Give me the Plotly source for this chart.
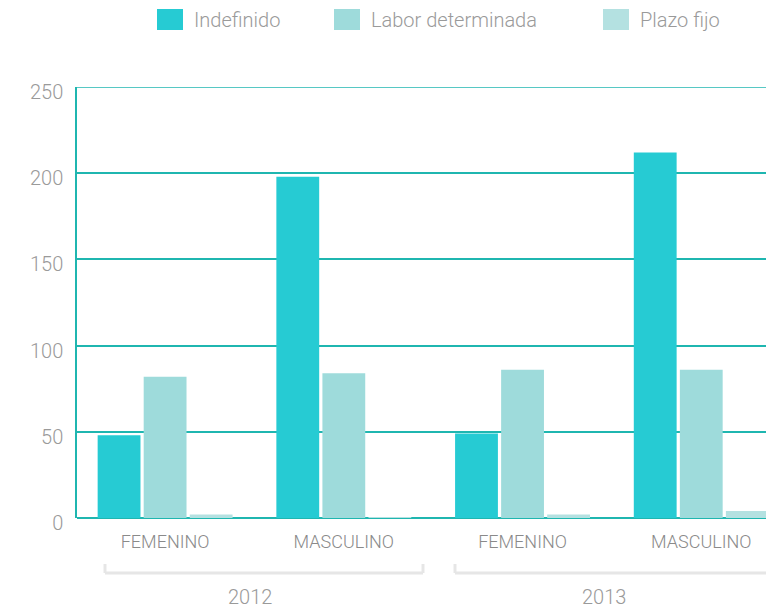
import plotly.graph_objects as go

# ---- data ----
sexo = ["FEMENINO", "MASCULINO", "FEMENINO", "MASCULINO"]
anio = ["2012", "2012", "2013", "2013"]
series_names = ["Indefinido", "Labor determinada", "Plazo fijo"]
indefinido = [48, 198, 49, 212]
labor_determinada = [82, 84, 86, 86]
plazo_fijo = [2, 0.5, 2, 4]
y_ticks = [0, 50, 100, 150, 200, 250]

colors = ["#26CBD3", "#9EDBDB", "#B4E1E1"]
values = [indefinido, labor_determinada, plazo_fijo]
xpos = list(range(len(sexo)))

OFF = 8  # page body margin
W, H = 774 - OFF, 610 - OFF
ml, mr, mt = 77 - OFF, 0, 87 - OFF
mb = (610 - OFF) - (518 - OFF)
plot_h = H - mt - mb
plot_w = W - ml - mr

fig = go.Figure()
for name, vals, col in zip(series_names, values, colors):
    fig.add_trace(go.Bar(x=xpos, y=vals, name=name, marker_color=col,
                         marker_line_width=0, showlegend=False))

grid_col = "#1FB6B0"
fam = "Roboto, 'DejaVu Sans', sans-serif"
fig.update_layout(
    width=W, height=H,
    margin=dict(l=ml, r=mr, t=mt, b=mb),
    plot_bgcolor="white", paper_bgcolor="white",
    barmode="group", bargap=0.227, bargroupgap=0.07,
    font=dict(family=fam, color="#999999", weight=300),
)
fig.update_xaxes(
    range=[-0.493, 3.407], tickmode="array", tickvals=xpos, ticktext=sexo,
    tickfont=dict(size=18, color="#8a8a8a", family=fam, weight=300),
    showgrid=False, zeroline=False,
    showline=False, ticks="", ticklabelstandoff=11,
)
fig.update_yaxes(
    range=[0, 250], tickvals=y_ticks,
    tickfont=dict(size=20, color="#9a9a9a", family=fam, weight=300),
    showgrid=True, gridcolor=grid_col, gridwidth=1.5,
    zeroline=True, zerolinecolor=grid_col, zerolinewidth=1.5,
    showline=True, linecolor=grid_col, linewidth=1.5,
    ticks="", ticklabelstandoff=8, ticklabelshift=5,
)
# top gridline (plotly skips the one on the range edge)
fig.add_shape(type="line", xref="paper", yref="y", x0=0, x1=1,
              y0=y_ticks[-1], y1=y_ticks[-1], line=dict(color=grid_col, width=1.5))

# ---- year group brackets ----
def py(px):
    return (H - mb - (px - OFF)) / plot_h

def pxx(px):
    return (px - OFF - ml) / plot_w

years = []
for a in anio:
    if a not in years:
        years.append(a)
bracket_px = [(105, 423), (455, 772)]
label_px = [250, 604]
lc = "#E6E6E6"
for yr, (bx0, bx1), lx in zip(years, bracket_px, label_px):
    fig.add_shape(type="line", xref="paper", yref="paper", x0=pxx(bx0), x1=pxx(bx1),
                  y0=py(573), y1=py(573), line=dict(color=lc, width=3))
    for bx in (bx0, bx1):
        fig.add_shape(type="line", xref="paper", yref="paper", x0=pxx(bx), x1=pxx(bx),
                      y0=py(573), y1=py(564), line=dict(color=lc, width=3))
    fig.add_annotation(text=yr, xref="paper", yref="paper",
                       x=pxx(lx), y=py(597),
                       xanchor="center", yanchor="middle", showarrow=False,
                       font=dict(size=20, color="#9a9a9a", family=fam, weight=300))

# ---- manual legend ----
legend_x = [157, 334, 603]
for name, col, lx in zip(series_names, colors, legend_x):
    fig.add_shape(type="rect", xref="paper", yref="paper",
                  x0=pxx(lx), x1=pxx(lx + 26), y0=py(30), y1=py(9),
                  fillcolor=col, line_width=0)
    fig.add_annotation(text=name, xref="paper", yref="paper",
                       x=pxx(lx + 35), y=py(20), xanchor="left", yanchor="middle",
                       showarrow=False,
                       font=dict(size=20, color="#9a9a9a", family=fam, weight=300))

fig.write_html("out.html")
